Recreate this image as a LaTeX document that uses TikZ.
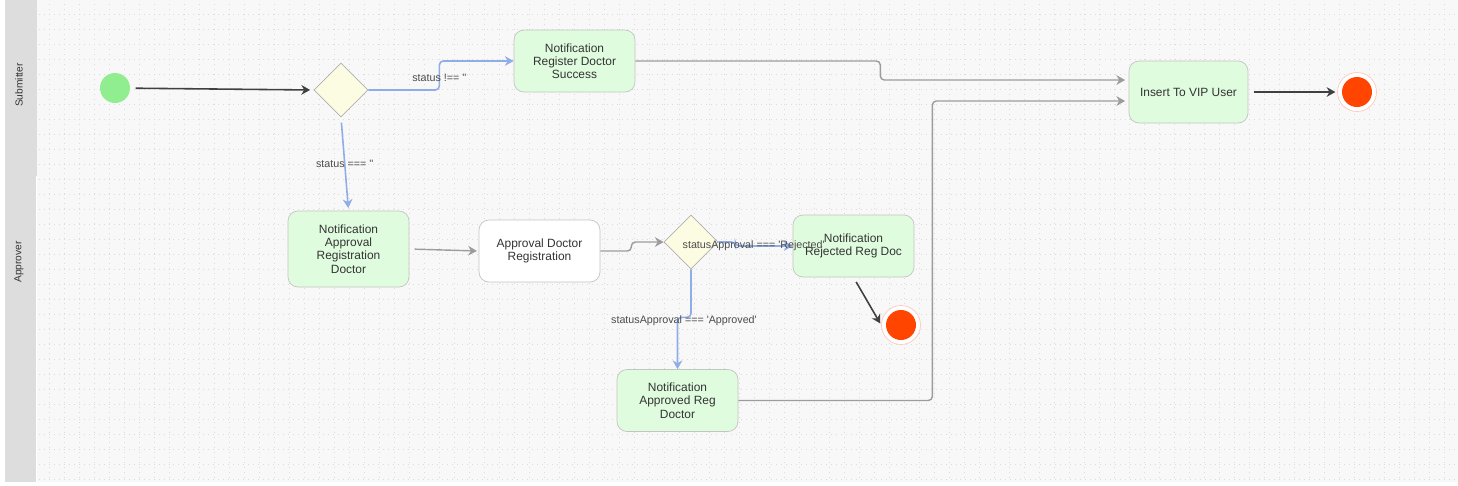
\documentclass[tikz,border=0pt]{standalone}
\usepackage{fontspec}
\setmainfont{Liberation Sans}
\usetikzlibrary{shapes.geometric,arrows.meta,calc}
\definecolor{canvasbg}{HTML}{F8F8F8}
\definecolor{dotgray}{HTML}{DCDCDC}
\definecolor{lanegray}{HTML}{DDDDDD}
\definecolor{boxgreen}{HTML}{E0FCDE}
\definecolor{boxline}{HTML}{C4C4C4}
\definecolor{gateyellow}{HTML}{FCFCE2}
\definecolor{startgreen}{HTML}{90EE90}
\definecolor{endred}{HTML}{FF4500}
\definecolor{halored}{HTML}{FFC8BE}
\definecolor{condblue}{HTML}{8FADE6}
\definecolor{flowgray}{HTML}{9C9C9C}
\definecolor{txt}{HTML}{333333}
\newcommand{\sq}{\textquotesingle}
\tikzset{
  taskbox/.style={rectangle, rounded corners=0.2cm, draw=boxline, fill=boxgreen,
    minimum width=2.42cm, minimum height=1.24cm, align=center, text=txt,
    font=\fontsize{6.8}{7.55}\selectfont, inner sep=1pt},
  gatebox/.style={diamond, draw=flowgray!80, fill=gateyellow, minimum width=1.08cm,
    minimum height=1.08cm, inner sep=0pt, aspect=1},
  startdot/.style={circle, fill=startgreen, minimum size=0.6cm, inner sep=0pt},
  enddot/.style={circle, draw=halored, line width=0.4pt, fill=white, minimum size=0.78cm,
    inner sep=0pt, path picture={\fill[endred] (path picture bounding box.center) circle (0.3cm);}},
  flow/.style={draw=flowgray, line width=0.8pt, rounded corners=0.08cm, -{Stealth[length=5pt,width=5.5pt]}},
  cond/.style={draw=condblue, line width=0.9pt, rounded corners=0.08cm, -{Stealth[length=5pt,width=5.5pt]}},
  startflow/.style={draw=black!75, line width=0.9pt, -{Stealth[length=5pt,width=5.5pt]}},
  edgelabel/.style={font=\fontsize{6.1}{7}\selectfont, text=black!70, inner sep=1pt},
  lanelabel/.style={rotate=90, font=\fontsize{5.8}{7}\selectfont, text=txt},
  dotline/.style={dotgray, line width=0.5pt, dash pattern=on 0.5pt off 2.335pt}
}
\begin{document}
\begin{tikzpicture}[x=0.02cm, y=-0.02cm]
\useasboundingbox (0,0) rectangle (1458,485);
%canvas
\fill[white] (0,0) rectangle (1458,485);
\fill[canvasbg] (37,0) rectangle (1458,482);
\foreach \gy in {14,29,...,479}{
    \draw[dotline] (39,\gy) -- (1458,\gy);
};
\foreach \gx in {49,64,...,1454}{
    \draw[dotline] (\gx,-1) -- (\gx,482);
};
%lanes
\fill[lanegray] (5,0) rectangle (37,176);
\fill[lanegray] (5,176) rectangle (36,482);
\node[lanelabel] (laneSubmitter) at (19,85) {Submitter};
\node[lanelabel] (laneApprover) at (19,262) {Approver};
%nodes
\node[startdot] (start) at (115,88) {};
\node[gatebox] (gateStatus) at (341,90) {};
\node[taskbox] (notifSuccess) at (574.5,61) {Notification\\Register Doctor\\Success};
\node[taskbox, minimum height=1.52cm] (notifApproval) at (348.5,249) {Notification\\Approval\\Registration\\Doctor};
\node[taskbox, fill=white] (approvalReg) at (539.5,251) {Approval Doctor\\Registration};
\node[gatebox] (gateApproval) at (691,242) {};
\node[taskbox] (notifRejected) at (853.5,246) {Notification\\Rejected Reg Doc};
\node[enddot] (endRejected) at (901,325) {};
\node[taskbox] (notifApproved) at (677.5,400.5) {Notification\\Approved Reg\\Doctor};
\node[taskbox, minimum width=2.38cm] (insertVip) at (1188.5,92) {Insert To VIP User};
\node[enddot] (endVip) at (1357,92) {};
%connectors
\draw[startflow, shorten <=3pt, shorten >=2pt] (start) -- (gateStatus.west);
\draw[cond] (gateStatus.east) -- ++(71,0) node[edgelabel, yshift=7pt] {status !== \sq\sq} |- (notifSuccess.west);
\draw[cond, shorten <=3pt, shorten >=1.5pt] (gateStatus.south) -- (notifApproval.north) node[midway, edgelabel] {status === \sq\sq};
\draw[flow, shorten <=3pt, shorten >=1pt] (notifApproval.east) -- (approvalReg.west);
\draw[flow] (approvalReg.east) -- ++(31,0) |- (gateApproval.west);
\draw[cond] (gateApproval.east) -- ++(17,0) |- (notifRejected.west) node[pos=0.66, edgelabel] {statusApproval === \sq Rejected\sq};
\draw[cond] (gateApproval.south) -- ++(0,48) node[edgelabel, xshift=-4pt, yshift=-1.7pt] {statusApproval === \sq Approved\sq} -| (notifApproved.north);
\draw[startflow, shorten <=3pt, shorten >=1pt] (notifRejected.south) -- (endRejected.west);
\draw[flow, shorten >=2pt] (notifApproved.east) -- ++(194,0) |- ($(insertVip.west)+(0,9)$);
\draw[flow, shorten >=2pt] (notifSuccess.east) -- ++(245,0) |- ($(insertVip.west)+(0,-12)$);
\draw[startflow, shorten <=3pt, shorten >=1pt] (insertVip.east) -- (endVip.west);
\end{tikzpicture}
\end{document}
